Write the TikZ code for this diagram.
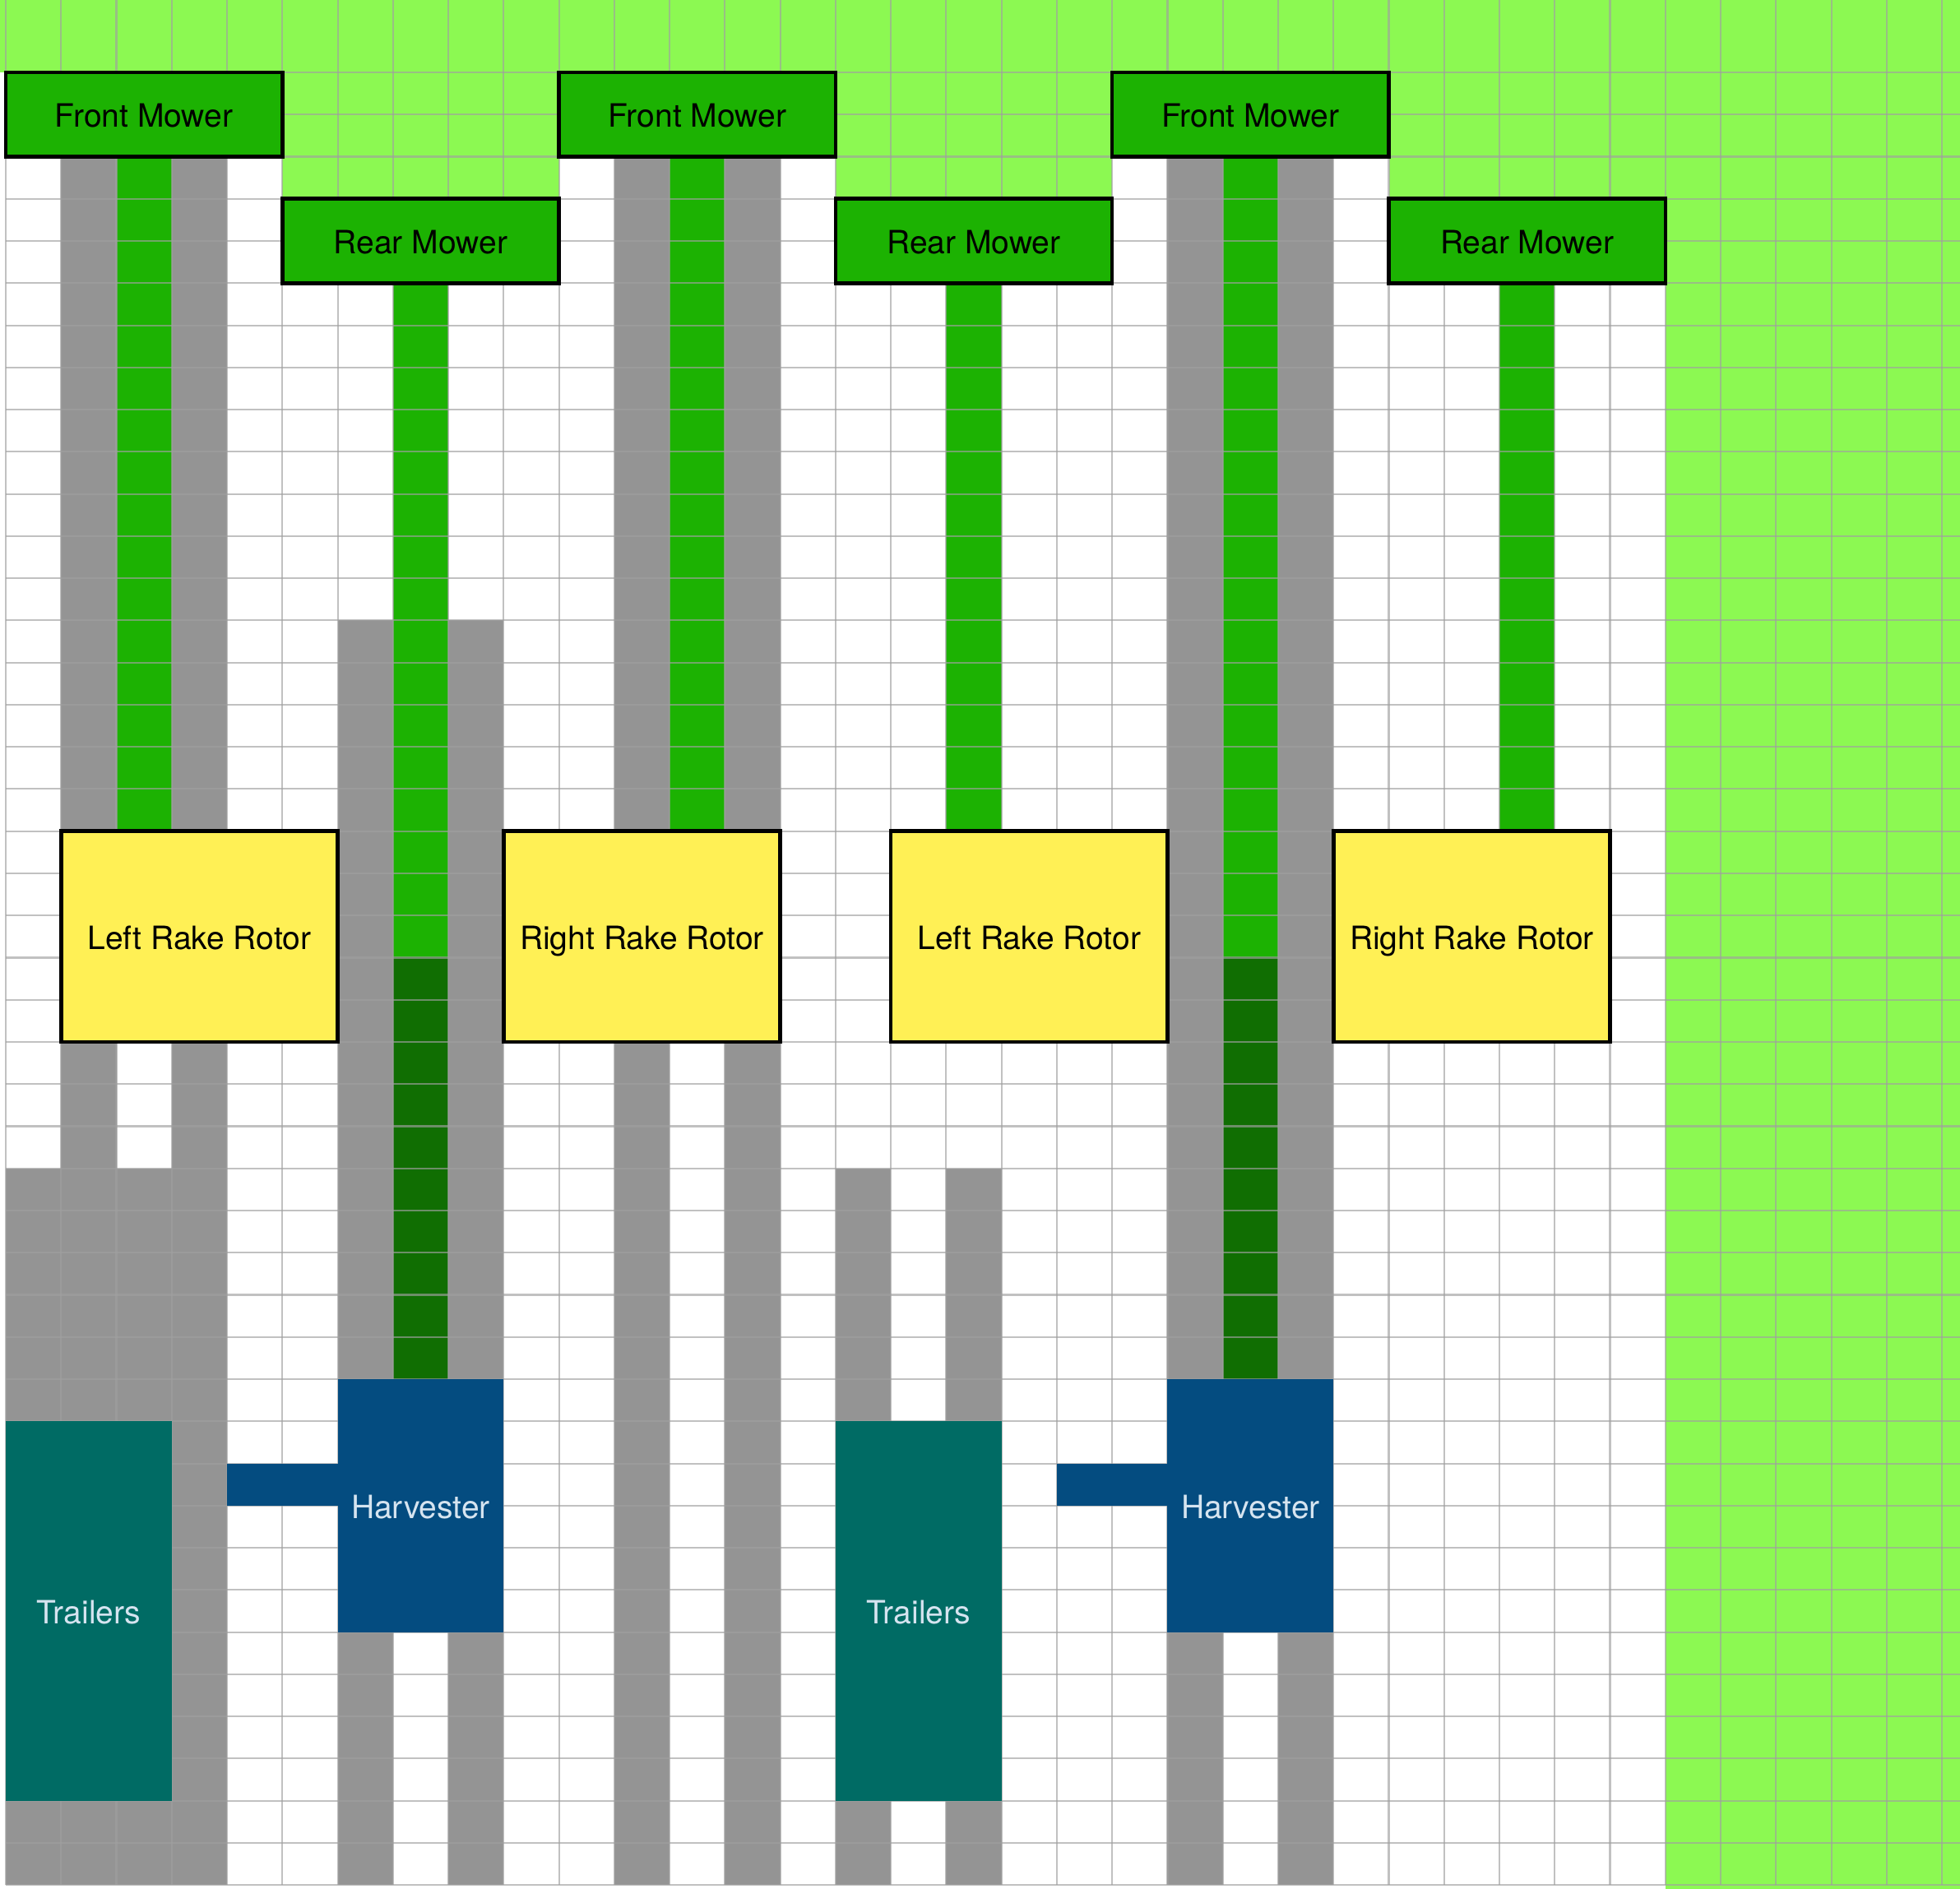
\documentclass[tikz,border=0pt]{standalone}
\usepackage{fontspec}
\setmainfont{TeX Gyre Heros}

\definecolor{fieldgreen}{RGB}{140,249,82}
\definecolor{mowergreen}{RGB}{28,178,2}
\definecolor{swathdark}{RGB}{16,110,2}
\definecolor{tramgray}{RGB}{148,148,148}
\definecolor{rotoryellow}{RGB}{255,240,85}
\definecolor{harvblue}{RGB}{4,76,128}
\definecolor{trailteal}{RGB}{0,107,100}
\definecolor{lighttext}{RGB}{214,228,240}
\definecolor{gridgray}{RGB}{160,160,160}

\begin{document}
\begin{tikzpicture}[
  x=0.6726cm, y=-0.5126cm,
  every node/.style={font=\fontsize{11.1}{13.3}\selectfont, text height=0.88em, text depth=0pt},
  gridline/.style={draw=gridgray, opacity=0.65, line width=0.6pt},
  machine/.style={inner sep=0pt, minimum width=3.363cm},
  mower/.style={machine, draw=black, line width=1.3pt, fill=mowergreen, minimum height=1.0252cm},
  rotor/.style={machine, draw=black, line width=1.3pt, fill=rotoryellow, minimum height=2.563cm},
  harvester/.style={inner sep=0pt, fill=harvblue, text=lighttext, minimum width=2.0178cm, minimum height=3.0756cm},
  trailers/.style={inner sep=0pt, fill=trailteal, text=lighttext, minimum width=2.0178cm, minimum height=4.6134cm}
]
\useasboundingbox (-0.1041,-1.7167) rectangle (35.326,43.094);

% ---------- Field ----------
\fill[white] (-0.1041,-1.7167) rectangle (35.326,43.094);
\fill[fieldgreen] (-0.1041,-1.7167) rectangle (35.326,0); % headland
\fill[fieldgreen] (5,0) rectangle (10,3);
\fill[fieldgreen] (15,0) rectangle (20,3);
\fill[fieldgreen] (25,0) rectangle (30,3);
\fill[fieldgreen] (30,0) rectangle (35.326,43.094); % uncut part

% ---------- Tramlines and swaths: pass 1 ----------
\fill[tramgray] (1,2) rectangle (2,26);
\fill[tramgray] (3,2) rectangle (4,43);
\fill[mowergreen] (2,2) rectangle (3,18);
\fill[tramgray] (0,26) rectangle (4,43);

% ---------- Pass 2 ----------
\fill[tramgray] (6,13) rectangle (7,43);
\fill[tramgray] (8,13) rectangle (9,43);
\fill[mowergreen] (7,5) rectangle (8,21);
\fill[swathdark] (7,21) rectangle (8,31);

% ---------- Pass 3 ----------
\fill[tramgray] (11,2) rectangle (12,43);
\fill[tramgray] (13,2) rectangle (14,43);
\fill[mowergreen] (12,2) rectangle (13,18);

% ---------- Pass 4 ----------
\fill[tramgray] (15,26) rectangle (16,43);
\fill[tramgray] (17,26) rectangle (18,43);
\fill[mowergreen] (17,5) rectangle (18,18);

% ---------- Pass 5 ----------
\fill[tramgray] (21,2) rectangle (22,43);
\fill[tramgray] (23,2) rectangle (24,43);
\fill[mowergreen] (22,2) rectangle (23,21);
\fill[swathdark] (22,21) rectangle (23,31);

% ---------- Pass 6 ----------
\fill[mowergreen] (27,5) rectangle (28,18);

% ---------- Grid ----------
\foreach \c in {0,...,35}
  \draw[gridline] (\c,-1.7167) -- (\c,43);
\foreach \r in {0,...,43}
  \draw[gridline] (0,\r) -- (35.326,\r);

% ---------- Mowers ----------
\node[mower] (fm1) at (2.5,1) {Front Mower};
\node[mower] (fm2) at (12.5,1) {Front Mower};
\node[mower] (fm3) at (22.5,1) {Front Mower};
\node[mower] (rm1) at (7.5,4) {Rear Mower};
\node[mower] (rm2) at (17.5,4) {Rear Mower};
\node[mower] (rm3) at (27.5,4) {Rear Mower};

% ---------- Rake rotors ----------
\node[rotor] (lrr1) at (3.5,20.5) {Left Rake Rotor};
\node[rotor] (rrr1) at (11.5,20.5) {Right Rake Rotor};
\node[rotor] (lrr2) at (18.5,20.5) {Left Rake Rotor};
\node[rotor] (rrr2) at (26.5,20.5) {Right Rake Rotor};

% ---------- Harvesters with spouts ----------
\node[harvester] (harv1) at (7.5,34) {Harvester};
\node[harvester] (harv2) at (22.5,34) {Harvester};
\fill[harvblue] (4,33) rectangle (6,34); % spout 1
\fill[harvblue] (19,33) rectangle (21,34); % spout 2

% ---------- Trailers ----------
\node[trailers] (trl1) at (1.5,36.5) {Trailers};
\node[trailers] (trl2) at (16.5,36.5) {Trailers};

\end{tikzpicture}
\end{document}
